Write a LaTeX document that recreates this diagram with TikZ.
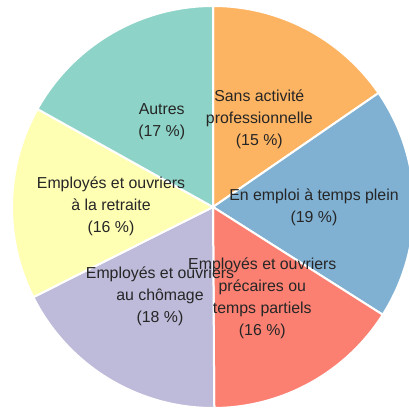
\documentclass[tikz,border=0pt]{standalone}
\usepackage{fontspec}
\setmainfont{Liberation Sans}
\definecolor{sansact}{HTML}{FDB462}
\definecolor{plein}{HTML}{80B1D3}
\definecolor{precaire}{HTML}{FB8072}
\definecolor{chomage}{HTML}{BEBADA}
\definecolor{retraite}{HTML}{FFFFB3}
\definecolor{autres}{HTML}{8DD3C7}
\newcommand\slice[3]{\fill[#1,draw=white,line width=1.5pt] (C) -- ++(#2:201) arc[start angle=#2,end angle=#3,radius=201] -- cycle;}
\tikzset{lbl/.style={align=center,inner sep=0pt,text=black!85,font=\fontsize{11.9}{16.5}\selectfont}}

\begin{document}
\begin{tikzpicture}[x=0.75pt,y=0.75pt]
        \useasboundingbox (0,0) rectangle (409,408);
        \clip (0,0) rectangle (409,408);
        \coordinate (C) at (213,201);

        \slice{sansact}{90}{34.56}
        \slice{plein}{34.56}{-32.4}
        \slice{precaire}{-32.4}{-89.64}
        \slice{chomage}{-89.64}{-153.36}
        \slice{retraite}{-153.36}{-209.16}
        \slice{autres}{-209.16}{-270}

        \path
        (259.3,288.3) node[lbl] (Lsans) {Sans activité\\professionnelle\\(15 \%)}
        (314,201) node[lbl] (Lplein) {En emploi à temps plein\\(19 \%)}
        (262.3,110) node[lbl] (Lprec) {Employés et ouvriers\\précaires ou\\temps partiels\\(16 \%)}
        (160,111.6) node[lbl] (Lchom) {Employés et ouvriers\\au chômage\\(18 \%)}
        (111,201.4) node[lbl] (Lretr) {Employés et ouvriers\\à la retraite\\(16 \%)}
        (161.7,286.6) node[lbl] (Lautres) {Autres\\(17 \%)}
        ;
      \end{tikzpicture}
\end{document}
